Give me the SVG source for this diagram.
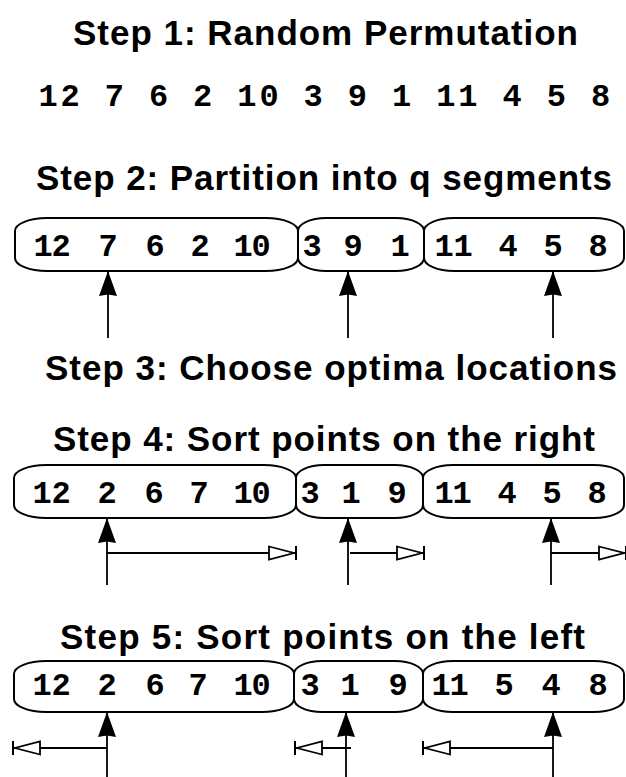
<svg xmlns="http://www.w3.org/2000/svg" width="626" height="777" viewBox="0 0 626 777">
<style>
.title{font-family:"Liberation Sans",Arial,sans-serif;font-weight:bold;font-size:35px;fill:#000}
.num{font-family:"Liberation Mono","Courier New",monospace;font-weight:bold;font-size:32px;fill:#000;text-anchor:middle}
.box{fill:none;stroke:#000;stroke-width:2}
.ln{stroke:#000;stroke-width:1.8;fill:none}
</style>
<defs>
<marker id="solid" viewBox="0 0 25 18" refX="25" refY="9" markerWidth="25" markerHeight="18" markerUnits="userSpaceOnUse" orient="auto">
<path d="M0,0 L25,9 L0,18 L1.5,9 Z" fill="#000"/>
</marker>
<marker id="open" viewBox="0 0 30 16" refX="28" refY="8" markerWidth="30" markerHeight="16" markerUnits="userSpaceOnUse" orient="auto" overflow="visible">
<path d="M1,1.5 L26,8 L1,14.5 Z" fill="#fff" stroke="#000" stroke-width="1.8"/>
<path d="M28,1 L28,15" stroke="#000" stroke-width="2"/>
</marker>
</defs>

<g id="step1">
<text class="title" x="73" y="45" textLength="505" lengthAdjust="spacing">Step 1: Random Permutation</text>
<text class="num" y="106" x="48 70.1">12</text>
<text class="num" y="106" x="114.3">7</text>
<text class="num" y="106" x="158.5">6</text>
<text class="num" y="106" x="202.7">2</text>
<text class="num" y="106" x="246.9 269">10</text>
<text class="num" y="106" x="313.2">3</text>
<text class="num" y="106" x="357.4">9</text>
<text class="num" y="106" x="401.6">1</text>
<text class="num" y="106" x="445.8 467.9">11</text>
<text class="num" y="106" x="512.1">4</text>
<text class="num" y="106" x="556.3">5</text>
<text class="num" y="106" x="600.5">8</text>
</g>

<g id="step2">
<text class="title" x="36" y="190" textLength="576" lengthAdjust="spacing">Step 2: Partition into q segments</text>
<g id="s2-seg1">
<rect class="box" x="15" y="218" width="283" height="53" rx="32" ry="13"/>
<text class="num" y="256" x="43 61">12</text>
<text class="num" y="256" x="108">7</text>
<text class="num" y="256" x="155">6</text>
<text class="num" y="256" x="200">2</text>
<text class="num" y="256" x="243 261">10</text>
</g>
<g id="s2-seg2">
<rect class="box" x="298" y="218" width="126" height="53" rx="28" ry="13"/>
<text class="num" y="256" x="312">3</text>
<text class="num" y="256" x="353">9</text>
<text class="num" y="256" x="400">1</text>
</g>
<g id="s2-seg3">
<rect class="box" x="424" y="218" width="200" height="53" rx="30" ry="13"/>
<text class="num" y="256" x="444 463">11</text>
<text class="num" y="256" x="508">4</text>
<text class="num" y="256" x="553">5</text>
<text class="num" y="256" x="598">8</text>
</g>
</g>

<g id="step3">
<text class="title" x="45" y="380" textLength="572" lengthAdjust="spacing">Step 3: Choose optima locations</text>
</g>

<g id="step4">
<text class="title" x="53" y="451" textLength="542" lengthAdjust="spacing">Step 4: Sort points on the right</text>
<g id="s4-seg1">
<rect class="box" x="14" y="465" width="282" height="53" rx="32" ry="13"/>
<text class="num" y="503" x="42 61">12</text>
<text class="num" y="503" x="107">2</text>
<text class="num" y="503" x="154">6</text>
<text class="num" y="503" x="199">7</text>
<text class="num" y="503" x="243 261">10</text>
</g>
<g id="s4-seg2">
<rect class="box" x="296" y="465" width="127" height="53" rx="28" ry="13"/>
<text class="num" y="503" x="310">3</text>
<text class="num" y="503" x="351">1</text>
<text class="num" y="503" x="397">9</text>
</g>
<g id="s4-seg3">
<rect class="box" x="423" y="465" width="201" height="53" rx="30" ry="13"/>
<text class="num" y="503" x="444 462">11</text>
<text class="num" y="503" x="507">4</text>
<text class="num" y="503" x="552">5</text>
<text class="num" y="503" x="597">8</text>
</g>
</g>

<g id="step5">
<text class="title" x="60" y="649" textLength="525" lengthAdjust="spacing">Step 5: Sort points on the left</text>
<g id="s5-seg1">
<rect class="box" x="14" y="661" width="280" height="51" rx="32" ry="13"/>
<text class="num" y="695" x="42 61">12</text>
<text class="num" y="695" x="107">2</text>
<text class="num" y="695" x="155">6</text>
<text class="num" y="695" x="198">7</text>
<text class="num" y="695" x="243 261">10</text>
</g>
<g id="s5-seg2">
<rect class="box" x="294" y="661" width="129" height="51" rx="28" ry="13"/>
<text class="num" y="695" x="310">3</text>
<text class="num" y="695" x="350">1</text>
<text class="num" y="695" x="398">9</text>
</g>
<g id="s5-seg3">
<rect class="box" x="423" y="661" width="201" height="51" rx="30" ry="13"/>
<text class="num" y="695" x="441 459">11</text>
<text class="num" y="695" x="504">5</text>
<text class="num" y="695" x="551">4</text>
<text class="num" y="695" x="598">8</text>
</g>
</g>

<g id="connectors">
<path class="ln" d="M108,338 L108,271" marker-end="url(#solid)"/>
<path class="ln" d="M348,338 L348,271" marker-end="url(#solid)"/>
<path class="ln" d="M553,338 L553,271" marker-end="url(#solid)"/>

<path class="ln" d="M107,585 L107,518" marker-end="url(#solid)"/>
<path class="ln" d="M348,585 L348,518" marker-end="url(#solid)"/>
<path class="ln" d="M551,585 L551,518" marker-end="url(#solid)"/>
<path class="ln" d="M107,553 L296,553" marker-end="url(#open)"/>
<path class="ln" d="M350,553 L424,553" marker-end="url(#open)"/>
<path class="ln" d="M551,553 L626,553" marker-end="url(#open)"/>

<path class="ln" d="M107,777 L107,712" marker-end="url(#solid)"/>
<path class="ln" d="M346,777 L346,712" marker-end="url(#solid)"/>
<path class="ln" d="M553,777 L553,712" marker-end="url(#solid)"/>
<path class="ln" d="M107,748 L13,748" marker-end="url(#open)"/>
<path class="ln" d="M351,748 L295,748" marker-end="url(#open)"/>
<path class="ln" d="M553,748 L423,748" marker-end="url(#open)"/>
</g>
</svg>
